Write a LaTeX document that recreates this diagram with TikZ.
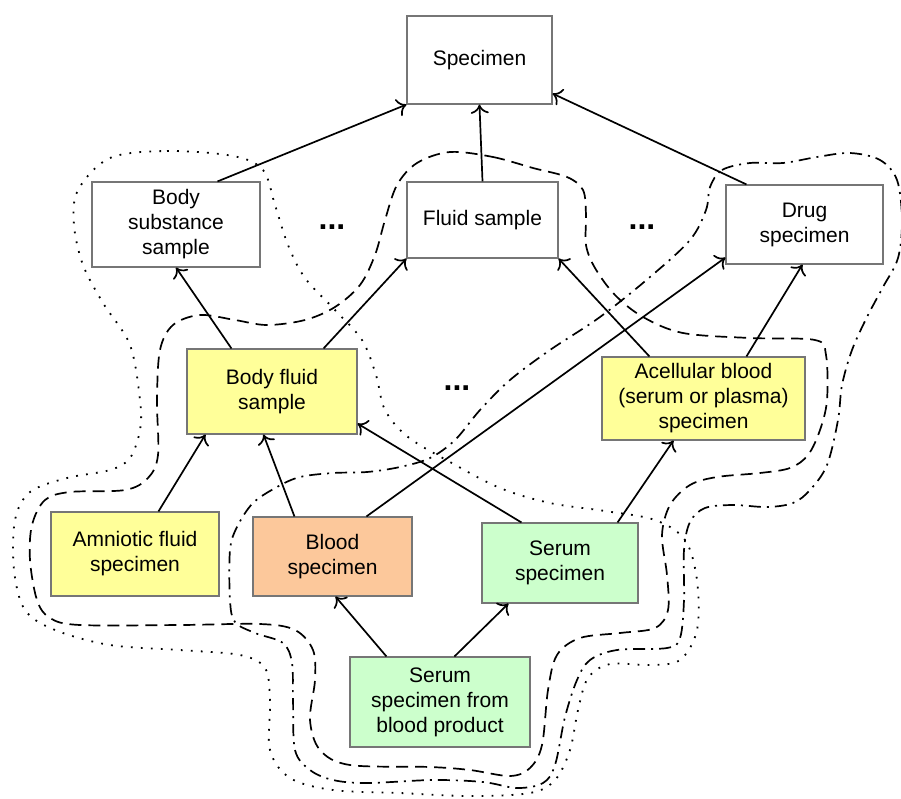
\documentclass[tikz,border=0pt]{standalone}
\usepackage{fontspec}
\setmainfont{Liberation Sans}
\usetikzlibrary{arrows.meta,calc}

\definecolor{boxline}{HTML}{767676}
\definecolor{fillyellow}{HTML}{FFFF99}
\definecolor{fillpeach}{HTML}{FCC89B}
\definecolor{fillgreen}{HTML}{CCFFCC}

\begin{document}
\begin{tikzpicture}[x=1pt,y=-1pt,
  box/.style={draw=boxline, line width=1.1pt, align=center, inner sep=0pt,
    font=\fontsize{21}{25}\selectfont, text=black},
  yel/.style={box, fill=fillyellow},
  peach/.style={box, fill=fillpeach},
  grn/.style={box, fill=fillgreen},
  isa/.style={line width=1.7pt, -{To[length=9pt,width=18pt]}},
  more/.style={font=\fontsize{32}{32}\bfseries\selectfont, inner sep=0pt, anchor=base},
  dotbound/.style={line width=1.8pt, dash pattern=on 1.8pt off 8.2pt},
  dashbound/.style={line width=1.7pt, dash pattern=on 12pt off 7pt},
  dashdotbound/.style={line width=1.7pt, dash pattern=on 12pt off 6pt on 2pt off 6pt},
]
\useasboundingbox (0,0) rectangle (901,798);

% enclosing boundaries
\draw[dotbound] plot[smooth cycle, tension=0.55] coordinates {
  (110,158) (167,151) (233,156) (263,170) (275,205) (288,245) (305,278)
  (335,310) (362,340) (376,375) (385,410) (408,437) (450,462) (500,488)
  (550,503) (605,511) (655,520) (685,540) (697,580) (697,630) (680,660)
  (650,665) (610,664) (588,678) (578,710) (570,750) (555,780) (530,793)
  (470,796) (400,793) (333,790) (290,778) (270,750) (270,700) (265,668)
  (240,655) (180,650) (110,645) (55,630) (25,610) (14,570) (15,520)
  (30,492) (67,478) (110,470) (130,458) (140,430) (140,400) (130,345)
  (103,303) (83,265) (74,225) (78,190)};

\draw[dashbound] plot[smooth cycle, tension=0.55] coordinates {
  (450,152) (493,157) (533,168) (567,177) (583,190) (586,215) (586,245)
  (595,268) (615,295) (643,317) (683,333) (750,338) (815,340) (826,355)
  (827,400) (820,430) (808,455) (790,468) (760,473) (717,477) (690,485)
  (670,505) (662,535) (667,575) (668,610) (655,628) (620,633) (580,638)
  (557,655) (548,690) (542,745) (530,768) (510,776) (470,770) (430,767)
  (350,765) (320,750) (310,720) (315,680) (313,650) (295,630) (260,624)
  (180,625) (80,625) (50,618) (37,600) (30,560) (32,525) (45,500)
  (70,492) (125,490) (148,478) (158,455) (157,400) (160,350) (173,325)
  (200,315) (235,320) (267,325) (305,320) (335,307) (360,285) (375,255)
  (385,220) (397,185) (417,163)};

\draw[dashdotbound] plot[smooth cycle, tension=0.55] coordinates {
  (710,187) (722,170) (750,163) (783,163) (817,157) (850,153) (880,160)
  (897,180) (902,220) (898,258) (883,287) (867,317) (852,350) (842,385)
  (838,420) (827,465) (810,490) (793,503) (767,507) (733,505) (705,508)
  (690,522) (684,550) (684,600) (680,638) (667,648) (617,650) (590,660)
  (577,680) (565,717) (555,765) (543,783) (517,788) (483,782) (433,780)
  (367,783) (333,780) (310,770) (295,750) (293,700) (292,663) (283,643)
  (255,633) (235,622) (230,600) (230,550) (237,527) (253,503) (277,487)
  (300,477) (333,473) (367,472) (400,467) (430,458) (455,440) (480,410)
  (510,380) (550,350) (600,317) (650,277) (690,240) (706,210)};

% concept boxes
\node[box, minimum width=145pt, minimum height=88pt] (spec) at (479.5,60) {Specimen};
\node[box, minimum width=168pt, minimum height=85pt] (bss) at (176,224.5) {Body\\substance\\sample};
\node[box, minimum width=151pt, minimum height=76pt] (fluid) at (482.5,220) {Fluid sample};
\node[box, minimum width=157pt, minimum height=79pt] (drug) at (804.5,224.5) {Drug\\specimen};
\node[yel, minimum width=170pt, minimum height=85pt] (bfs) at (272,391.5) {Body fluid\\sample};
\node[yel, minimum width=203pt, minimum height=83pt] (acell) at (703.5,398.5) {Acellular blood\\(serum or plasma)\\specimen};
\node[yel, minimum width=168pt, minimum height=84pt] (amnio) at (135,554) {Amniotic fluid\\specimen};
\node[peach, minimum width=159pt, minimum height=79pt] (blood) at (332.5,556.5) {Blood\\specimen};
\node[grn, minimum width=156pt, minimum height=80pt] (serum) at (560,563) {Serum\\specimen};
\node[grn, minimum width=180pt, minimum height=90pt] (sbp) at (440,702) {Serum\\specimen from\\blood product};

% elided siblings
\node[more] (moreA) at (332,229) {...};
\node[more] (moreB) at (642,229) {...};
\node[more] (moreC) at (457,390) {...};

% is-a links
\draw[isa] ($(bss.north west)+(126,0)$) -- (spec.south west);
\draw[isa] (fluid.north) -- ($(spec.south west)+(73,0)$);
\draw[isa] ($(drug.north west)+(21,0)$) -- ($(spec.south east)+(0,-11)$);
\draw[isa] ($(bfs.north west)+(45,0)$) -- (bss.south);
\draw[isa] ($(bfs.north east)+(-34,0)$) -- (fluid.south west);
\draw[isa] ($(acell.north west)+(48,0)$) -- (fluid.south east);
\draw[isa] ($(acell.north west)+(145,0)$) -- ($(drug.south west)+(77,0)$);
\draw[isa] ($(blood.north west)+(114,0)$) -- ($(drug.south west)+(0,-7)$);
\draw[isa] ($(amnio.north west)+(108,0)$) -- ($(bfs.south west)+(19,0)$);
\draw[isa] ($(blood.north west)+(42,0)$) -- ($(bfs.south west)+(77,0)$);
\draw[isa] ($(serum.north west)+(40,0)$) -- ($(bfs.south east)+(0,-11)$);
\draw[isa] ($(serum.north east)+(-21,0)$) -- ($(acell.south west)+(72,0)$);
\draw[isa] ($(sbp.north west)+(37,0)$) -- ($(blood.south west)+(83,0)$);
\draw[isa] ($(sbp.north west)+(105,0)$) -- ($(serum.south west)+(27,0)$);
\end{tikzpicture}
\end{document}
